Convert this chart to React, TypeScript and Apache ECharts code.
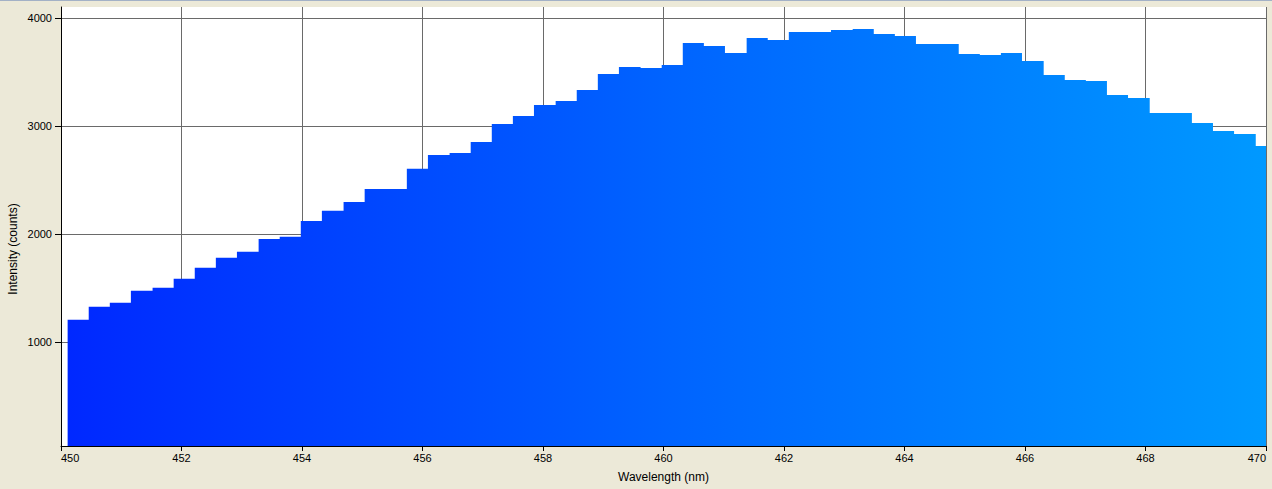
import React, { useEffect, useRef } from 'react';
import * as echarts from 'echarts';

// left edge of each spectrometer bin (nm)
const binStarts = [
  450.11, 450.46, 450.81, 451.16, 451.52, 451.87, 452.22, 452.57, 452.92, 453.28,
  453.63, 453.98, 454.33, 454.69, 455.04, 455.39, 455.74, 456.09, 456.45, 456.8,
  457.15, 457.5, 457.85, 458.21, 458.56, 458.91, 459.26, 459.62, 459.97, 460.32,
  460.67, 461.02, 461.38, 461.73, 462.08, 462.43, 462.78, 463.14, 463.49, 463.84,
  464.19, 464.54, 464.9, 465.25, 465.6, 465.95, 466.31, 466.66, 467.01, 467.36,
  467.71, 468.07, 468.42, 468.77, 469.12, 469.47, 469.83,
];
const lastBinEnd = 470.18;

// counts per bin
const intensity = [
  1206, 1327, 1364, 1475, 1503, 1586, 1688, 1781, 1836, 1956,
  1975, 2123, 2216, 2299, 2419, 2419, 2605, 2734, 2753, 2855,
  3021, 3095, 3197, 3234, 3336, 3484, 3549, 3540, 3568, 3771,
  3744, 3679, 3817, 3799, 3873, 3873, 3892, 3901, 3855, 3836,
  3762, 3762, 3669, 3660, 3679, 3605, 3475, 3429, 3419, 3290,
  3262, 3123, 3123, 3031, 2957, 2929, 2818,
];

const yTicks = [1000, 2000, 3000, 4000];

const App: React.FC = () => {
  const chartRef = useRef<HTMLDivElement>(null);

  useEffect(() => {
    if (!chartRef.current) return;
    document.body.style.margin = '0';

    const chart = echarts.init(chartRef.current, undefined, { renderer: 'svg' });

    const points = binStarts.map((x, i) => [x, intensity[i]]);
    points.push([lastBinEnd, intensity[intensity.length - 1]]);

    const gridColor = '#6a6a6a';
    const font = 'Liberation Sans, Arial, sans-serif';

    const option: echarts.EChartsOption = {
      animation: false,
      backgroundColor: '#ECE9D8',
      grid: {
        left: 61,
        right: 6,
        top: 7,
        bottom: 43,
        show: true,
        backgroundColor: '#ffffff',
        borderWidth: 0,
      },
      xAxis: {
        type: 'value',
        min: 450,
        max: 470,
        interval: 2,
        name: 'Wavelength (nm)',
        nameLocation: 'middle',
        nameGap: 25,
        nameTextStyle: { color: '#000', fontSize: 12, fontFamily: font },
        axisLine: { lineStyle: { color: '#000', width: 1 } },
        axisTick: { length: 5, lineStyle: { color: '#000' } },
        axisLabel: {
          color: '#000',
          fontSize: 11,
          fontFamily: font,
          margin: 6,
          alignMinLabel: 'left',
          alignMaxLabel: 'right',
        },
        splitLine: { show: true, lineStyle: { color: gridColor, width: 1 } },
      },
      yAxis: {
        type: 'value',
        min: 37,
        max: 4105,
        axisLine: { show: true, lineStyle: { color: '#000', width: 1 } },
        axisTick: { show: true, length: 6, lineStyle: { color: '#000' }, customValues: yTicks },
        axisLabel: {
          color: '#000',
          fontSize: 11,
          fontFamily: font,
          margin: 9,
          showMinLabel: true,
          showMaxLabel: true,
          customValues: yTicks,
          formatter: (v: number) => String(v),
        },
        splitLine: {
          show: true,
          showMinLine: true,
          showMaxLine: true,
          lineStyle: { color: gridColor, width: 1 },
        },
      },
      graphic: [
        {
          type: 'text',
          x: 13,
          y: 249,
          rotation: Math.PI / 2,
          style: {
            text: 'Intensity (counts)',
            fill: '#000',
            fontSize: 12,
            fontFamily: font,
            align: 'center',
            verticalAlign: 'middle',
          },
        },
        {
          type: 'line',
          shape: { x1: 0, y1: 0.5, x2: 1272, y2: 0.5 },
          style: { stroke: '#a3b1c6', lineWidth: 1 },
        },
      ],
      series: [
        {
          type: 'line',
          step: 'end',
          data: points,
          symbol: 'none',
          clip: true,
          lineStyle: { width: 0 },
          areaStyle: {
            origin: 'start',
            opacity: 1,
            color: new echarts.graphic.LinearGradient(0, 0, 1, 0, [
              { offset: 0, color: '#0028FF' },
              { offset: 0.5, color: '#0064FF' },
              { offset: 1, color: '#009AFF' },
            ]),
          },
        },
      ],
    };

    chart.setOption(option);

    return () => {
      chart.dispose();
    };
  }, []);

  return (
    <div
      ref={chartRef}
      style={{ position: 'fixed', left: 0, top: 0, width: '1272px', height: '489px' }}
    ></div>
  );
};

export default App;
